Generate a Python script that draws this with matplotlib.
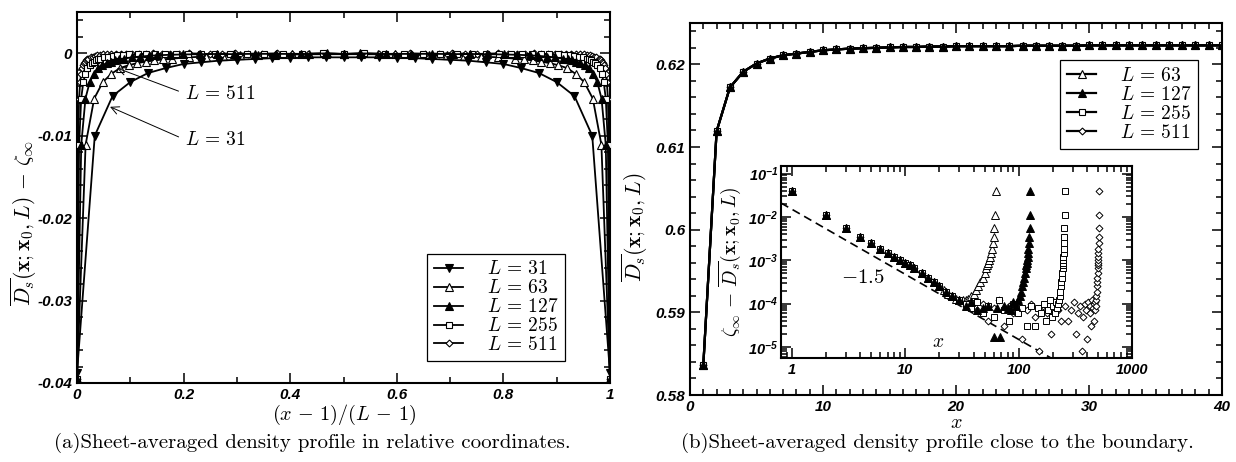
import numpy as np
import matplotlib.pyplot as plt
from matplotlib.ticker import MultipleLocator, FuncFormatter, LogLocator, NullFormatter

plt.rcParams['font.family'] = ['Liberation Sans', 'DejaVu Sans']
plt.rcParams['font.style'] = 'italic'
plt.rcParams['font.weight'] = 'bold'
plt.rcParams['mathtext.fontset'] = 'cm'
plt.rcParams['axes.unicode_minus'] = False
plt.rcParams['axes.linewidth'] = 1.5

sizes = [31, 63, 127, 255, 511]

# D - zeta_inf for L=31, x = 1..16 (profile is symmetric about the middle)
prof31 = [-0.0388, -0.0100, -0.0052, -0.0035, -0.0024, -0.0018, -0.0013, -0.0011,
          -0.0009, -0.0008, -0.0007, -0.0006, -0.0006, -0.0005, -0.0005, -0.0005]

# zeta_inf - D next to a wall, x = 1..12, L >= 63
dev_wall = [0.0395, 0.0111, 0.0055, 0.0035, 0.0025, 0.0018, 0.00146, 0.0012,
            0.00102, 0.00087, 0.00076, 0.00066]

# further from the wall, up to the middle of the sample
x63 = [14, 16, 18, 20, 22, 24, 26, 28, 30, 32]
dev63 = [5.0e-4, 4.0e-4, 3.2e-4, 2.6e-4, 2.1e-4, 1.7e-4, 1.5e-4, 1.3e-4, 1.2e-4, 1.2e-4]
x127 = [14, 16, 18, 20, 23, 26, 30, 34, 38, 43, 48, 54, 60, 64]
dev127 = [5.0e-4, 4.0e-4, 3.2e-4, 2.5e-4, 1.9e-4, 1.5e-4, 1.2e-4, 9e-5, 1.1e-4, 7e-5,
          8e-5, 9e-5, 1.7e-5, 8e-5]
x255 = [14, 16, 18, 20, 23, 26, 30, 34, 38, 43, 48, 54, 60, 67, 74, 82, 90, 99, 108,
        118, 128]
dev255 = [5.0e-4, 4.0e-4, 3.1e-4, 2.5e-4, 1.9e-4, 1.5e-4, 1.2e-4, 1.0e-4, 8e-5, 1.1e-4,
          6e-5, 9e-5, 5e-5, 1.2e-4, 7e-5, 4e-5, 1.0e-4, 6e-5, 8e-5, 3e-5, 9e-5]
x511 = [14, 16, 18, 20, 23, 26, 30, 34, 38, 43, 48, 54, 60, 67, 74, 82, 90, 99, 108,
        118, 128, 140, 152, 165, 178, 192, 207, 222, 238, 256]
dev511 = [5.0e-4, 4.0e-4, 3.1e-4, 2.5e-4, 1.9e-4, 1.5e-4, 1.2e-4, 9e-5, 1.1e-4, 7e-5,
          1.0e-4, 4e-5, 8e-5, 1.2e-4, 3e-5, 9e-5, 6e-5, 1.1e-4, 1.5e-5, 7e-5, 1.0e-4,
          5e-5, 8e-6, 9e-5, 6e-5, 2e-5, 1.1e-4, 7e-5, 4e-5, 9e-5]

# D close to the boundary, x = 1..40
d_edge = [0.5836, 0.6119, 0.6172, 0.6191, 0.6201, 0.6207, 0.6211, 0.6213, 0.6215, 0.6217,
          0.6218, 0.6219, 0.62195, 0.6220, 0.62205, 0.6221, 0.6221, 0.62215, 0.62215, 0.6222,
          0.6222, 0.6222, 0.6222, 0.6222, 0.62225, 0.62225, 0.62225, 0.62225, 0.62225, 0.6223,
          0.6223, 0.6223, 0.6223, 0.6223, 0.6223, 0.6223, 0.6223, 0.6223, 0.6223, 0.6223]

slope_x = [0.8, 1000]
slope_amp = 0.01495


def mirror(L, xs, ds):
    xs = list(xs)
    ds = list(ds)
    back = [(L + 1 - x, d) for x, d in zip(xs, ds) if L + 1 - x > x]
    back.reverse()
    return np.array(xs + [b[0] for b in back], float), np.array(ds + [b[1] for b in back])


far = {63: (x63, dev63), 127: (x127, dev127), 255: (x255, dev255), 511: (x511, dev511)}
prof = {}
for L in sizes[1:]:
    xs, ds = far[L]
    prof[L] = mirror(L, list(range(1, 13)) + xs, dev_wall + ds)
prof[31] = mirror(31, range(1, 17), [-v for v in prof31])

mk = {31: dict(marker='v', mfc='k', ms=6),
      63: dict(marker='^', mfc='w', ms=6),
      127: dict(marker='^', mfc='k', ms=6),
      255: dict(marker='s', mfc='w', ms=4),
      511: dict(marker='D', mfc='w', ms=3.5)}
zo = {31: 6, 63: 3, 127: 5, 255: 4, 511: 3}


def lab(L):
    return r'$L\,=\,%d$' % L


def style(ax, size=11):
    ax.tick_params(which='both', direction='in', top=True, right=True, width=1.1,
                   labelsize=size)
    ax.tick_params(which='major', length=7)
    ax.tick_params(which='minor', length=4)


fig = plt.figure(figsize=(12.36, 4.62), dpi=100)
axa = fig.add_axes([77/1236, 1-383/462, 533/1236, 371/462])
axb = fig.add_axes([690/1236, 1-395/462, 532/1236, 372/462])
axi = fig.add_axes([781/1236, 1-358/462, 351/1236, 192/462])

legkw = dict(borderaxespad=0, fontsize=14, labelspacing=0.05, handlelength=1.5,
             handletextpad=1.2, borderpad=0.35, fancybox=False, edgecolor='k', framealpha=1)

# (a)
for L in sizes:
    x, d = prof[L]
    axa.plot((x-1)/(L-1), -d, color='k', lw=1.3, mec='k', mew=0.8, label=lab(L),
             zorder=zo[L], **mk[L])
axa.set_xlim(0, 1)
axa.set_ylim(-0.04, 0.005)
axa.xaxis.set_major_locator(MultipleLocator(0.2))
axa.xaxis.set_minor_locator(MultipleLocator(0.1))
axa.yaxis.set_major_locator(MultipleLocator(0.01))
axa.yaxis.set_minor_locator(MultipleLocator(0.002))
axa.xaxis.set_major_formatter(FuncFormatter(lambda v, p: '%g' % round(v, 3)))
axa.yaxis.set_major_formatter(FuncFormatter(lambda v, p: '%g' % round(v, 3)))
style(axa)
axa.set_xlabel(r'$(x\,-\,1)/(L\,-\,1)$', fontsize=14.5, labelpad=1)
axa.set_ylabel(r'$\overline{D_s}(\mathbf{x};\mathbf{x}_0,L)\,-\,\zeta_\infty$', fontsize=15.5)
axa.yaxis.set_label_coords(-0.072, 0.43)
axa.annotate(lab(511), xy=(0.075, -0.0018), xytext=(0.203, -0.0049), fontsize=14, va='center',
             arrowprops=dict(arrowstyle='->', lw=0.7, color='k', relpos=(0, 0.5), shrinkA=3, shrinkB=0))
axa.annotate(lab(31), xy=(0.062, -0.0065), xytext=(0.203, -0.0105), fontsize=14, va='center',
             arrowprops=dict(arrowstyle='->', lw=0.7, color='k', relpos=(0, 0.5), shrinkA=3, shrinkB=0))
leg = axa.legend(loc='lower right', bbox_to_anchor=(0.916, 0.059), **legkw)
leg.get_frame().set_linewidth(0.9)

# (b)
xe = np.arange(1, len(d_edge) + 1)
for L in sizes[1:]:
    axb.plot(xe, d_edge, color='k', lw=1.6, mec='k', mew=0.8, label=lab(L), zorder=zo[L], **mk[L])
axb.set_xlim(0, 40)
axb.set_ylim(0.58, 0.625)
axb.xaxis.set_major_locator(MultipleLocator(10))
axb.xaxis.set_minor_locator(MultipleLocator(1))
axb.yaxis.set_major_locator(MultipleLocator(0.01))
axb.yaxis.set_minor_locator(MultipleLocator(0.002))
axb.yaxis.set_major_formatter(FuncFormatter(lambda v, p: '%g' % round(v, 3)))
style(axb)
axb.set_xlabel('$x$', fontsize=14.5, labelpad=-0.5)
axb.set_ylabel(r'$\overline{D_s}(\mathbf{x};\mathbf{x}_0,L)$', fontsize=15.5)
axb.yaxis.set_label_coords(-0.075, 0.45)
leg = axb.legend(loc='upper right', bbox_to_anchor=(0.955, 0.90), **legkw)
leg.get_frame().set_linewidth(0.9)

# inset
for L in sizes[1:]:
    x, d = prof[L]
    axi.plot(x, d, ls='none', mec='k', mew=0.7, zorder=zo[L], **mk[L])
xs = np.array(slope_x)
axi.plot(xs, slope_amp * xs**-1.5, 'k--', lw=1.2, dashes=(5, 3))
axi.set_xscale('log')
axi.set_yscale('log')
axi.set_xlim(0.8, 1000)
axi.set_ylim(5.58e-6, 0.149)
axi.yaxis.set_major_formatter(FuncFormatter(lambda v, p: r'$\mathregular{10^{%d}}$' % round(np.log10(v))))
axi.xaxis.set_major_formatter(FuncFormatter(lambda v, p: '%d' % round(v)))
axi.xaxis.set_minor_formatter(NullFormatter())
axi.yaxis.set_minor_locator(LogLocator(subs=np.arange(2, 10), numticks=20))
axi.yaxis.set_minor_formatter(NullFormatter())
style(axi, 10.5)
axi.tick_params(axis='y', pad=2)
axi.set_ylabel(r'$\zeta_\infty\,-\,\overline{D_s}(\mathbf{x};\mathbf{x}_0,L)$', fontsize=14)
axi.yaxis.set_label_coords(-0.108, 0.5)
axi.text(0.234, 0.42, '$-1.5$', transform=axi.transAxes, fontsize=15, ha='center', va='center')
axi.text(0.447, 0.083, '$x$', transform=axi.transAxes, fontsize=14, ha='center', va='center')

cap = dict(ha='center', va='center', fontfamily='cmr10', fontstyle='normal', fontweight='normal',
           fontsize=15)
fig.text(312/1236, 1-443/462, '(a)Sheet-averaged density profile in relative coordinates.', **cap)
fig.text(937/1236, 1-443/462, '(b)Sheet-averaged density profile close to the boundary.', **cap)

fig.savefig('out.png', dpi=100)
